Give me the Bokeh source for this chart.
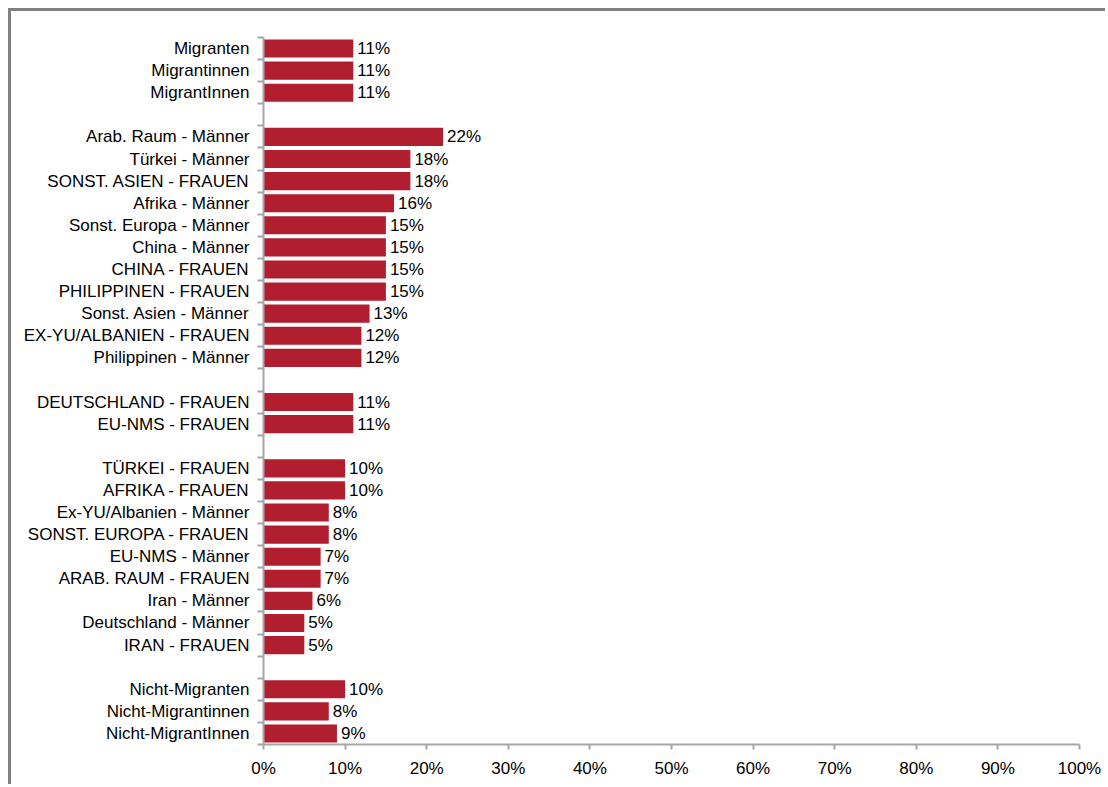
from bokeh.plotting import figure
from bokeh.models import ColumnDataSource, Range1d, FixedTicker, PrintfTickFormatter
from bokeh.core.properties import value
from bokeh.embed import file_html
from bokeh.resources import INLINE

# ---- data (top to bottom, groups separated by an empty slot) ----
group1_labels = ["Migranten", "Migrantinnen", "MigrantInnen"]
group1_values = [11, 11, 11]

group2_labels = ["Arab. Raum - Männer", "Türkei - Männer", "SONST. ASIEN - FRAUEN",
                 "Afrika - Männer", "Sonst. Europa - Männer", "China - Männer",
                 "CHINA - FRAUEN", "PHILIPPINEN - FRAUEN", "Sonst. Asien - Männer",
                 "EX-YU/ALBANIEN - FRAUEN", "Philippinen - Männer"]
group2_values = [22, 18, 18, 16, 15, 15, 15, 15, 13, 12, 12]

group3_labels = ["DEUTSCHLAND - FRAUEN", "EU-NMS - FRAUEN"]
group3_values = [11, 11]

group4_labels = ["TÜRKEI - FRAUEN", "AFRIKA - FRAUEN", "Ex-YU/Albanien - Männer",
                 "SONST. EUROPA - FRAUEN", "EU-NMS - Männer", "ARAB. RAUM - FRAUEN",
                 "Iran - Männer", "Deutschland - Männer", "IRAN - FRAUEN"]
group4_values = [10, 10, 8, 8, 7, 7, 6, 5, 5]

group5_labels = ["Nicht-Migranten", "Nicht-Migrantinnen", "Nicht-MigrantInnen"]
group5_values = [10, 8, 9]

x_ticks = [0, 10, 20, 30, 40, 50, 60, 70, 80, 90, 100]

groups = [(group1_labels, group1_values), (group2_labels, group2_values),
          (group3_labels, group3_values), (group4_labels, group4_values),
          (group5_labels, group5_values)]

# ---- build slots ----
names, vals, slots = [], [], []
slot = 0
for gi, (labs, vs) in enumerate(groups):
    if gi > 0:
        slot += 1  # empty slot between groups
    for l, v in zip(labs, vs):
        names.append(l)
        vals.append(v)
        slots.append(slot)
        slot += 1
n_slots = slot
ys = [n_slots - s - 0.5 for s in slots]

src = ColumnDataSource(dict(y=ys, v=vals, name=names,
                            txt=[f"{round(v)}%" for v in vals]))

FONT = "Liberation Sans"
FS = "17px"
BAR = "#B01E2F"
AX = "#A6A6A6"
TXT = "#000000"

p = figure(width=1097, height=776, output_backend="svg", toolbar_location=None,
           x_range=Range1d(0, 100), y_range=Range1d(0, n_slots),
           min_border_left=252, min_border_right=29, min_border_top=26, min_border_bottom=43)
p.styles = {"border-top": "3px solid #808080", "border-left": "3px solid #808080",
            "margin-top": "8px", "margin-left": "8px"}
p.outline_line_color = None
p.xgrid.visible = False
p.ygrid.visible = False
p.background_fill_color = "white"
p.border_fill_color = "white"

p.hbar(y="y", right="v", left=0, height=0.82, source=src, color=BAR, line_color=None)
p.text(x="v", y="y", text="txt", source=src, x_offset=4, text_baseline="middle",
       text_align="left", text_font=value(FONT), text_font_size=FS, text_color=TXT)

# x axis
xa = p.xaxis[0]
xa.ticker = FixedTicker(ticks=x_ticks)
xa.formatter = PrintfTickFormatter(format="%d%%")
xa.axis_line_color = AX
xa.axis_line_width = 2
xa.major_tick_line_color = AX
xa.major_tick_line_width = 2
xa.major_tick_out = 5
xa.major_tick_in = 0
xa.minor_tick_line_color = None
xa.major_label_text_font = FONT
xa.major_label_text_font_size = FS
xa.major_label_text_color = TXT
xa.major_label_standoff = 9

# y axis: labels at slot centres, tick marks at slot boundaries
ya = p.yaxis[0]
ya.ticker = FixedTicker(ticks=ys, minor_ticks=list(range(0, n_slots + 1)))
ya.major_label_overrides = {y: nm for y, nm in zip(ys, names)}
ya.axis_line_color = AX
ya.axis_line_width = 2
ya.major_tick_line_color = None
ya.major_tick_out = 0
ya.major_tick_in = 0
ya.minor_tick_line_color = AX
ya.minor_tick_line_width = 2
ya.minor_tick_out = 6
ya.minor_tick_in = 0
ya.major_label_text_font = FONT
ya.major_label_text_font_size = FS
ya.major_label_text_color = TXT
ya.major_label_standoff = 8

open("out.html", "w").write(file_html(p, INLINE))
